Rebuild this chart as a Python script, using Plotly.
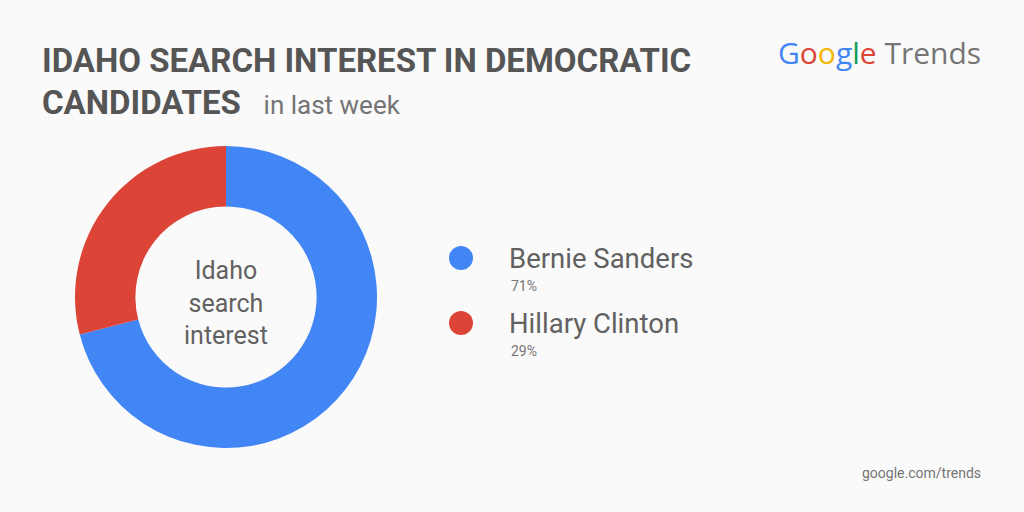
import plotly.graph_objects as go

candidates = ["Bernie Sanders", "Hillary Clinton"]
shares = [71, 29]
colors = ["#4285F4", "#DB4437"]

W, H = 1024, 512
fig = go.Figure(go.Pie(
    labels=candidates, values=shares, hole=0.6, sort=False,
    direction="clockwise", rotation=0, textinfo="none", hoverinfo="label+percent",
    marker=dict(colors=colors, line=dict(width=0)),
    domain=dict(x=[75/W, 377/W], y=[64/H, 366/H]), showlegend=False))

ann = []
def px(x, y, text, size, color, xa="left", ya="middle", family="Roboto"):
    ann.append(dict(x=x/W, y=1-y/H, xref="paper", yref="paper", text=text, showarrow=False,
                    xanchor=xa, yanchor=ya, font=dict(size=size, color=color, family=family)))

px(40, 60, "<b>IDAHO SEARCH INTEREST IN DEMOCRATIC</b>", 33, "#555555")
px(40, 102, "<b>CANDIDATES</b>  <span style='font-size:26px;color:#757575'> in last week</span>", 33, "#555555")
px(226, 303, "Idaho<br>search<br>interest", 25, "#616161", xa="center")
g = ("<span style='color:#4285F4'>G</span><span style='color:#DB4437'>o</span>"
     "<span style='color:#F4B400'>o</span><span style='color:#4285F4'>g</span>"
     "<span style='color:#0F9D58'>l</span><span style='color:#DB4437'>e</span>")
px(983, 52, g + " <span style='color:#757575'>Trends</span>", 30, "#757575", xa="right", family="Open Sans")
px(983, 473, "google.com/trends", 14, "#757575", xa="right")

shapes = []
for i, (name, v) in enumerate(zip(candidates, shares)):
    cy = 258 + i * 65
    shapes.append(dict(type="circle", xref="paper", yref="paper",
                       x0=(449)/W, x1=(473)/W, y0=1-(cy+12)/H, y1=1-(cy-12)/H,
                       fillcolor=colors[i], line=dict(width=0)))
    px(507, cy, name, 27.5, "#616161")
    px(509, cy + 28, f"{v}%", 14, "#757575")

fig.update_layout(width=W, height=H, margin=dict(l=0, r=0, t=0, b=0),
                  paper_bgcolor="#FAFAFA", plot_bgcolor="#FAFAFA",
                  annotations=ann, shapes=shapes)
fig.write_html("out.html", config={"displayModeBar": False},
               post_script="document.body.style.margin='0';")
